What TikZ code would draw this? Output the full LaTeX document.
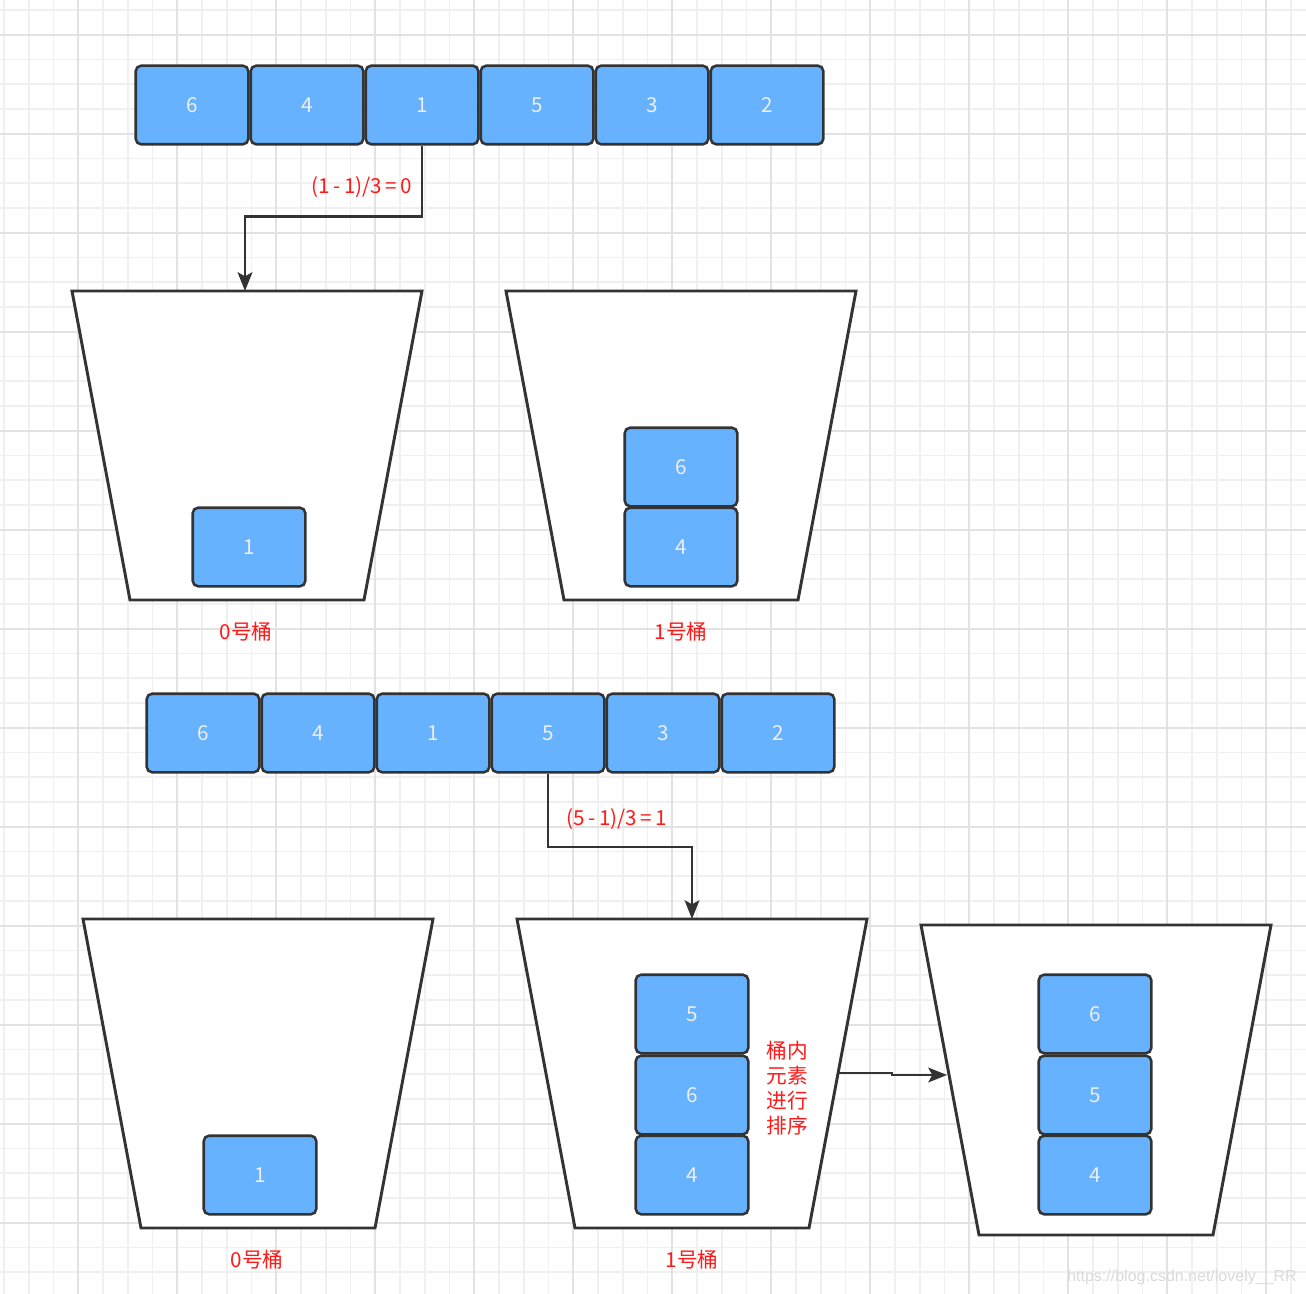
\documentclass[tikz,border=0pt]{standalone}
\usepackage{fontspec}
\setmainfont{Noto Sans CJK SC}
\newfontfamily\wmfont{Liberation Sans}
\usetikzlibrary{arrows.meta,calc}
\definecolor{cellblue}{HTML}{66B2FF}
\definecolor{edgegray}{HTML}{333333}
\definecolor{gridminor}{HTML}{F0F0F0}
\definecolor{gridmajor}{HTML}{E2E2E2}
\definecolor{numtext}{HTML}{EEEEEE}
\definecolor{redtext}{HTML}{FF1A1A}
\definecolor{wmgray}{HTML}{DADADA}
\begin{document}
\begin{tikzpicture}[x=0.75pt,y=-0.75pt,
  cell/.style={draw=edgegray, fill=cellblue, line width=1.9pt, rounded corners=4pt,
    minimum width=84.4pt, minimum height=58.9pt, inner sep=0pt, text=numtext,
    font=\fontsize{15.5}{17}\selectfont},
  bucket/.style={draw=edgegray, fill=white, line width=2.2pt, line join=miter},
  conn/.style={draw=edgegray, line width=2.1pt, -{Stealth[length=14pt,width=11pt,inset=3pt]}},
  lbl/.style={text=redtext, font=\fontsize{15.5}{18.75}\selectfont, inner sep=0pt, align=center}]

% background and grid
\fill[white] (0,0) rectangle (1306,1294);
\useasboundingbox (0,0) rectangle (1306,1294);
\foreach \i in {0,...,52} \draw[gridminor, line width=1.2pt] ({4+24.75*\i},0) -- ({4+24.75*\i},1294);
\foreach \i in {0,...,51} \draw[gridminor, line width=1.2pt] (0,{10+24.75*\i}) -- (1306,{10+24.75*\i});
\foreach \i in {0,...,12} \draw[gridmajor, line width=1.4pt] ({78.25+99*\i},0) -- ({78.25+99*\i},1294);
\foreach \i in {0,...,12} \draw[gridmajor, line width=1.4pt] (0,{34.75+99*\i}) -- (1306,{34.75+99*\i});

% top row
\node[cell] (a1) at (192,105) {6};
\node[cell] (a2) at (307,105) {4};
\node[cell] (a3) at (422,105) {1};
\node[cell] (a4) at (537,105) {5};
\node[cell] (a5) at (652,105) {3};
\node[cell] (a6) at (767,105) {2};

% top buckets
\draw[bucket] (72,291) -- (422,291) -- (364,600) -- (130,600) -- cycle;
\draw[bucket] (506,291) -- (856,291) -- (798,600) -- (564,600) -- cycle;
\coordinate (t0) at (245,291);
\node[cell] (p1) at (249,547) {1};
\node[cell] (q6) at (681,467) {6};
\node[cell] (q4) at (681,547) {4};
\node[lbl] (l0) at (246,632) {0号桶};
\node[lbl] (l1) at (681,632) {1号桶};

\draw[conn] (a3.south) -- ++(0,71) -| (t0);
\node[lbl] (f1) at (362,187) {(1\,-\,1)/3\,=\,0};

% second row
\node[cell] (b1) at (203,733) {6};
\node[cell] (b2) at (318,733) {4};
\node[cell] (b3) at (433,733) {1};
\node[cell] (b4) at (548,733) {5};
\node[cell] (b5) at (663,733) {3};
\node[cell] (b6) at (778,733) {2};

% bottom buckets
\draw[bucket] (83,919) -- (433,919) -- (375,1228) -- (141,1228) -- cycle;
\draw[bucket] (517,919) -- (867,919) -- (809,1228) -- (575,1228) -- cycle;
\draw[bucket] (921,925) -- (1271,925) -- (1213,1235) -- (979,1235) -- cycle;
\coordinate (t1) at (692,919);
\coordinate (r1) at (838,1073);
\coordinate (r2) at (947,1075);

\node[cell] (s1) at (260,1175) {1};
\node[cell] (u5) at (692,1014) {5};
\node[cell] (u6) at (692,1095) {6};
\node[cell] (u4) at (692,1175) {4};
\node[cell] (v6) at (1095,1014) {6};
\node[cell] (v5) at (1095,1095) {5};
\node[cell] (v4) at (1095,1175) {4};

\node[lbl] (m0) at (257,1260) {0号桶};
\node[lbl] (m1) at (692,1260) {1号桶};
\node[lbl] (srt) at (787,1088) {桶内\\元素\\进行\\排序};

\draw[conn] (b4.south) -- ++(0,73.5) -| (t1);
\node[lbl] (f2) at (617,819) {(5\,-\,1)/3\,=\,1};

\draw[conn] (r1) -- ++(54,0) |- (r2);

% watermark
\node[anchor=east, text=wmgray, inner sep=0pt, font=\wmfont\fontsize{12}{14}\selectfont] (wm) at (1297,1277) {https://blog.csdn.net/lovely\_\_RR};
\end{tikzpicture}
\end{document}
